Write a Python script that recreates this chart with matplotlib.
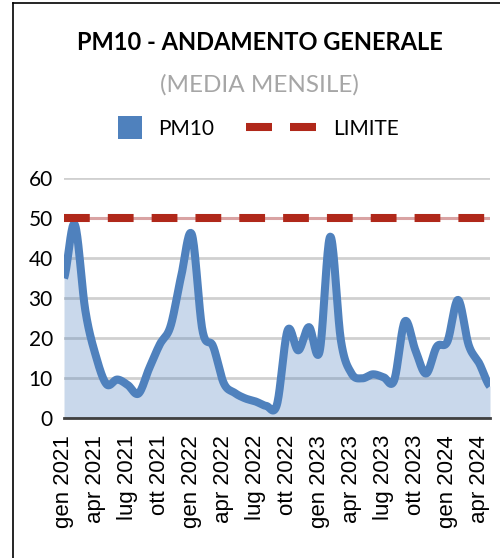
import numpy as np
import matplotlib.pyplot as plt
from matplotlib.lines import Line2D
from matplotlib.patches import Rectangle

# monthly means, gen 2021 .. mag 2024
months = ['gen', 'feb', 'mar', 'apr', 'mag', 'giu', 'lug', 'ago', 'set', 'ott', 'nov', 'dic']
years = [2021, 2022, 2023, 2024]
pm10 = [35, 48.5, 27, 15.5, 8.5, 9.7, 8.3, 6.2, 12.5, 18.5, 23, 35.5,
        46, 22, 18, 8.8, 6.4, 5, 4.2, 3.1, 3.5, 22, 17, 22.8,
        16.7, 45.4, 19.5, 11.2, 10, 11, 10.3, 9.5, 24.2, 17, 11.2, 17.9,
        19.2, 29.6, 18.3, 13.7, 8]
limite = 50

labels = [f'{m} {y}' for y in years for m in months][:len(pm10)]
x = np.arange(len(pm10))


def smooth(xs, ys, n=20):
    # catmull-rom path through the points, like Excel's "smoothed line"
    xs = np.asarray(xs, float)
    ys = np.asarray(ys, float)
    px = np.concatenate([[2 * xs[0] - xs[1]], xs, [2 * xs[-1] - xs[-2]]])
    py = np.concatenate([[ys[0]], ys, [ys[-1]]])
    t = np.linspace(0, 1, n, endpoint=False)
    outx, outy = [], []
    for i in range(1, len(px) - 2):
        for p, out in ((px, outx), (py, outy)):
            p0, p1, p2, p3 = p[i - 1], p[i], p[i + 1], p[i + 2]
            out.extend(0.5 * (2 * p1 + (-p0 + p2) * t
                              + (2 * p0 - 5 * p1 + 4 * p2 - p3) * t ** 2
                              + (-p0 + 3 * p1 - 3 * p2 + p3) * t ** 3))
    outx.append(xs[-1])
    outy.append(ys[-1])
    return np.array(outx), np.array(outy)


sx, sy = smooth(x, pm10)

fig = plt.figure(figsize=(5, 5.58), dpi=100)
ax = fig.add_axes([0.128, 0.2503, 0.852, 0.4302])

ax.set_ylim(0, 60)
ax.set_xlim(0, len(pm10) - 1)
ax.set_yticks(range(0, 61, 10))
ax.yaxis.grid(True, color='#d0d0d0', linewidth=2)
ax.set_axisbelow(True)

ax.fill_between(sx, 0, sy, color='#4f81bd', alpha=0.3, linewidth=0, zorder=2)
ax.plot(sx, sy, color='#4f81bd', linewidth=5.8, solid_capstyle='butt', zorder=3)

ax.axhline(limite, color='#d9a3a3', linewidth=2.2, zorder=4)
ax.axhline(limite, color='#b0281a', linewidth=5.8, dashes=(3.2, 2.24),
           solid_capstyle='butt', zorder=5)

for s in ['top', 'right', 'left']:
    ax.spines[s].set_visible(False)
ax.spines['bottom'].set_color('#404040')
ax.spines['bottom'].set_linewidth(2)
ax.spines['bottom'].set_zorder(6)

ax.set_xticks(x[::3])
ax.set_xticklabels(labels[::3], rotation=90, fontsize=16,
                   fontfamily='Liberation Sans', va='top', ha='center')
ax.tick_params(axis='x', length=0, pad=12)
ax.tick_params(axis='y', length=0, pad=8, labelsize=15)
for t in ax.get_yticklabels():
    t.set_fontfamily('Lato')

# title block
fig.text(0.52, 1 - 50 / 558, 'PM10 - ANDAMENTO GENERALE', ha='center', va='baseline',
         fontsize=17, fontweight='bold', fontfamily='Lato')
fig.text(0.518, 1 - 92 / 558, '(MEDIA MENSILE)', ha='center', va='baseline',
         fontsize=17.5, color='#a6a6a6', fontfamily='Lato')

# legend
W, H = 500, 558
fig.patches.append(Rectangle((118 / W, 1 - 139 / H), 24 / W, 23 / H, transform=fig.transFigure,
                             facecolor='#4f81bd', edgecolor='none'))
fig.text(158 / W, 1 - 135 / H, 'PM10', ha='left', va='baseline', fontsize=15, fontfamily='Lato')
for x0, x1 in ((246, 272), (290, 316)):
    fig.lines.append(Line2D([x0 / W, x1 / W], [1 - 127 / H] * 2, transform=fig.transFigure,
                            color='#b0281a', linewidth=5.8, solid_capstyle='butt'))
fig.text(333 / W, 1 - 135 / H, 'LIMITE', ha='left', va='baseline', fontsize=15, fontfamily='Lato')

# chart frame edges
fig.lines.append(Line2D([13 / W, 13 / W], [0, 1 - 3 / H], transform=fig.transFigure,
                        color='black', linewidth=1.2))
fig.lines.append(Line2D([13 / W, 1], [1 - 3 / H, 1 - 3 / H], transform=fig.transFigure,
                        color='black', linewidth=1.2))

fig.savefig('out.png', dpi=100)
